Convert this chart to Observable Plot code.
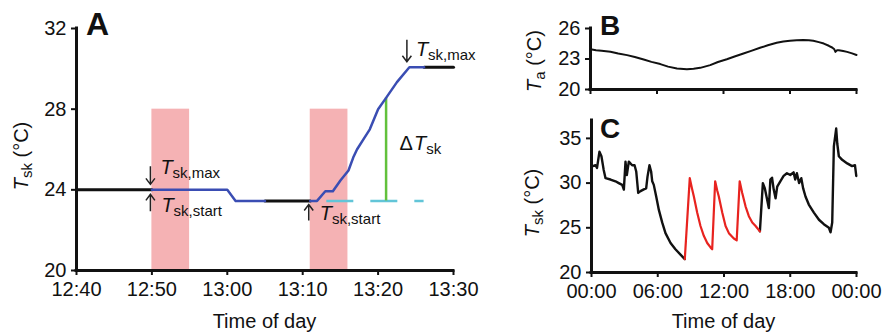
<!DOCTYPE html>
<html>
<head>
<meta charset="utf-8">
<script src="https://cdn.jsdelivr.net/npm/d3@7"></script>
<script src="https://cdn.jsdelivr.net/npm/@observablehq/plot@0.6"></script>
<style>
  html, body { margin: 0; padding: 0; background: #fff; }
  #root { position: relative; width: 884px; height: 333px; overflow: hidden; }
  #root svg { position: absolute; overflow: visible; }
</style>
</head>
<body>
<div id="root"></div>
<script>
const font = '"Liberation Sans", Arial, Helvetica, sans-serif';

// ---------- Panel A data (x = minutes after 12:00) ----------
const aTicks = [40, 50, 60, 70, 80, 90];
const aTickLabels = ["12:40", "12:50", "13:00", "13:10", "13:20", "13:30"];
const aYTicks = [20, 24, 28, 32];
const aBlack1 = [[40, 24], [50, 24]];
const aBlue1 = [[50, 24], [60, 24], [61.1, 23.45], [65, 23.45]];
const aBlack2 = [[65, 23.45], [71, 23.45]];
const aBlue2 = [[71, 23.45], [71.9, 23.45], [73, 23.93], [74, 23.93], [75, 24.46], [76.07, 24.96],
  [76.7, 25.6], [77.2, 26.0], [78.05, 26.5], [78.9, 27.0], [80, 28.0], [81.06, 28.56],
  [82.5, 29.34], [84.15, 30.08], [86.1, 30.08]];
const aBlack3 = [[86.1, 30.08], [90, 30.08]];
const aHeat = [[50, 55], [71, 76]];      // heating pulses (start, end)
const aHeatTop = 28;
const aBaseline = [{x1: 73.2, x2: 86.1, y: 23.45}];   // dashed T_sk,start level
const aDelta = [{x: 81.06, y1: 23.45, y2: 28.56}];    // ΔT_sk

// ---------- Panel B data (x = hour of day) ----------
const dayTicks = [0, 6, 12, 18, 24];
const dayTickLabels = ["00:00", "06:00", "12:00", "18:00", "00:00"];
const bYTicks = [20, 23, 26];
const bTa = [[0, 23.95], [0.5, 23.85], [1, 23.8], [1.8, 23.72], [2.5, 23.55], [3.3, 23.38], [4, 23.2],
  [4.8, 22.95], [5.5, 22.72], [6.3, 22.5], [7, 22.25], [7.8, 22.07], [8.7, 22.0], [9.3, 22.05],
  [9.9, 22.13], [10.8, 22.4], [11.5, 22.7], [12.3, 22.98], [13, 23.25], [13.8, 23.54], [14.5, 23.8],
  [15.3, 24.1], [16, 24.35], [16.8, 24.59], [17.4, 24.72], [18, 24.8], [18.6, 24.85], [19.2, 24.86],
  [19.7, 24.84], [20.1, 24.79], [20.6, 24.66], [21.05, 24.52], [21.5, 24.3], [21.8, 24.13],
  [22.0, 23.95], [22.1, 23.7], [22.25, 23.85], [22.4, 23.87], [22.8, 23.78], [23.15, 23.7],
  [23.6, 23.55], [24, 23.4]];

// ---------- Panel C data (x = hour of day) ----------
const cYTicks = [20, 25, 30, 35];
const cPre = [[0.06, 31.86], [0.36, 32.0], [0.5, 31.7], [0.72, 33.5], [0.9, 33.0], [1.1, 31.5],
  [1.27, 30.55], [1.72, 30.4], [2.17, 30.2], [2.47, 30.0], [2.78, 29.8], [2.93, 29.27], [3.08, 32.4],
  [3.2, 30.9], [3.38, 32.4], [3.68, 32.0], [3.9, 32.0], [4.05, 31.3], [4.23, 28.9], [4.44, 29.1],
  [4.74, 29.3], [4.95, 29.4], [5.07, 30.7], [5.25, 32.0], [5.4, 31.3], [5.5, 30.2], [5.64, 29.8],
  [5.86, 28.5], [6.1, 27.0], [6.4, 25.6], [6.7, 24.4], [7.16, 23.3], [7.6, 22.6], [8.06, 22.0],
  [8.45, 21.5]];
const cHeat = [[8.45, 21.5], [8.9, 30.55], [9.1, 29.4], [9.27, 28.5], [9.57, 26.7], [9.87, 25.2],
  [10.17, 24.1], [10.48, 23.3], [10.78, 22.8], [10.93, 22.6], [11.2, 30.2], [11.38, 29.2],
  [11.53, 28.5], [11.84, 26.7], [12.14, 25.2], [12.44, 24.4], [12.89, 23.8], [13.15, 23.6],
  [13.42, 30.2], [13.65, 28.9], [13.95, 27.4], [14.25, 26.3], [14.56, 25.6], [14.86, 25.2], [15.25, 24.6]];
const cPost = [[15.25, 24.6], [15.52, 30.0], [15.7, 29.4], [15.9, 28.2], [16.06, 27.2], [16.2, 30.4],
  [16.35, 30.6], [16.5, 29.3], [16.67, 28.3], [16.82, 29.6], [17.1, 30.2], [17.4, 30.8], [17.7, 31.1],
  [18.0, 30.9], [18.3, 31.2], [18.45, 30.4], [18.6, 31.1], [18.8, 30.0], [19.0, 30.55], [19.17, 29.4],
  [19.38, 28.5], [19.68, 27.6], [20.14, 26.7], [20.6, 25.9], [21.04, 25.4], [21.5, 25.0], [21.65, 24.5],
  [21.8, 25.6], [21.95, 34.1], [22.16, 36.1], [22.26, 34.4], [22.4, 33.0], [22.7, 32.6], [23.16, 32.2],
  [23.6, 31.9], [23.86, 32.0], [23.98, 30.8]];

const BLACK = "#111";
const BLUE = "#3a4db3";
const PINK = "#f5b2b4";
const GREEN = "#62c13c";
const CYAN = "#62c5d8";
const RED = "#e8231f";

const X = d => d[0], Y = d => d[1];
const intFmt = d => String(d);
const styleBase = {fontFamily: font, fontSize: "20px", color: "#111", background: "transparent", overflow: "visible"};

function addText(svg, x, y, parts, opts = {}) {
  const {size = 20, anchor = "start", rotate = false, weight = null} = opts;
  const t = d3.select(svg).append("text")
    .attr("font-family", font).attr("font-size", size)
    .attr("text-anchor", anchor).attr("fill", "#111");
  if (weight) t.attr("font-weight", weight);
  if (rotate) t.attr("transform", `translate(${x},${y}) rotate(-90)`);
  else t.attr("x", x).attr("y", y);
  let shift = 0;
  for (const p of parts) {
    const s = t.append("tspan").text(p.t);
    if (p.italic) s.attr("font-style", "italic");
    if (p.size) s.attr("font-size", p.size);
    const want = p.sub ? 4 : 0;
    if (want !== shift) { s.attr("dy", want - shift); shift = want; }
    if (p.dx) s.attr("dx", p.dx);
  }
  return t;
}
function arrow(svg, x, y1, y2) {
  const dir = y2 > y1 ? 1 : -1;
  d3.select(svg).append("path")
    .attr("d", `M${x},${y1}L${x},${y2}M${x - 4.5},${y2 - dir * 6}L${x},${y2}L${x + 4.5},${y2 - dir * 6}`)
    .attr("fill", "none").attr("stroke", "#222").attr("stroke-width", 1.5);
}
function place(svg, left, top) {
  svg.style.left = left + "px";
  svg.style.top = top + "px";
  document.getElementById("root").appendChild(svg);
}

// ================= Panel A =================
const A = Plot.plot({
  width: 500, height: 333,
  marginLeft: 76, marginRight: 47, marginTop: 28, marginBottom: 63,
  style: styleBase,
  x: {domain: [40, 90]},
  y: {domain: [20, 32]},
  marks: [
    Plot.rect(aHeat, {x1: d => d[0], x2: d => d[1], y1: 20, y2: aHeatTop, fill: PINK}),
    Plot.axisX({ticks: aTicks, tickFormat: d => aTickLabels[aTicks.indexOf(d)], tickSize: 5, tickPadding: 6, strokeWidth: 2, label: null}),
    Plot.axisY({ticks: aYTicks, tickFormat: intFmt, tickSize: 5, tickPadding: 5, strokeWidth: 2, label: null}),
    Plot.ruleY([20], {x1: 40, x2: 90, stroke: BLACK, strokeWidth: 3, strokeLinecap: "square"}),
    Plot.ruleX([40], {y1: 20, y2: 32, stroke: BLACK, strokeWidth: 3, strokeLinecap: "square"}),
    Plot.ruleY(aBaseline, {x1: "x1", x2: "x2", y: "y", stroke: CYAN, strokeWidth: 2.5, strokeDasharray: "27,17"}),
    Plot.ruleX(aDelta, {x: "x", y1: "y1", y2: "y2", stroke: GREEN, strokeWidth: 2.5}),
    Plot.line(aBlack1, {x: X, y: Y, stroke: BLACK, strokeWidth: 3}),
    Plot.line(aBlack2, {x: X, y: Y, stroke: BLACK, strokeWidth: 3}),
    Plot.line(aBlack3, {x: X, y: Y, stroke: BLACK, strokeWidth: 3}),
    Plot.line(aBlue1, {x: X, y: Y, stroke: BLUE, strokeWidth: 2.5}),
    Plot.line(aBlue2, {x: X, y: Y, stroke: BLUE, strokeWidth: 2.5})
  ]
});
place(A, 0, 0);
{
  const sx = A.scale("x").apply, sy = A.scale("y").apply;
  addText(A, 86, 35, [{t: "A"}], {size: 32, weight: "bold"});
  addText(A, 28, 156, [{t: "T", italic: true}, {t: "sk", size: 15, sub: true}, {t: " (°C)"}], {anchor: "middle", rotate: true});
  addText(A, (sx(40) + sx(90)) / 2, 328, [{t: "Time of day"}], {anchor: "middle"});
  let px = sx(aHeat[0][0]), py = sy(24);
  arrow(A, px - 1, py - 23, py - 5);
  addText(A, px + 9, py - 15, [{t: "T", italic: true}, {t: "sk,max", size: 15, sub: true}]);
  arrow(A, px - 1, py + 22, py + 5);
  addText(A, px + 10, py + 23, [{t: "T", italic: true}, {t: "sk,start", size: 15, sub: true}]);
  px = sx(aHeat[1][0]); py = sy(aBaseline[0].y);
  arrow(A, px - 1, py + 20, py + 4);
  addText(A, px + 10, py + 20, [{t: "T", italic: true}, {t: "sk,start", size: 15, sub: true}]);
  px = sx(84.15); py = sy(30.08);
  arrow(A, px - 2, py - 27, py - 5);
  addText(A, px + 7, py - 11, [{t: "T", italic: true}, {t: "sk,max", size: 15, sub: true}]);
  px = sx(aDelta[0].x); py = sy((aDelta[0].y1 + aDelta[0].y2) / 2);
  addText(A, px + 14, py + 1, [{t: "Δ"}, {t: "T", italic: true, dx: 1}, {t: "sk", size: 15, sub: true}]);
}

// ================= Panel B =================
const B = Plot.plot({
  width: 374, height: 100,
  marginLeft: 80, marginRight: 28, marginTop: 28, marginBottom: 11,
  style: styleBase,
  x: {domain: [0, 24]},
  y: {domain: [20, 26]},
  marks: [
    Plot.axisX({ticks: dayTicks, tickFormat: () => "", tickSize: 5, strokeWidth: 2, label: null}),
    Plot.axisY({ticks: bYTicks, tickFormat: intFmt, tickSize: 5, tickPadding: 5, strokeWidth: 2, label: null}),
    Plot.ruleY([20], {x1: 0, x2: 24, stroke: BLACK, strokeWidth: 3, strokeLinecap: "square"}),
    Plot.ruleX([0], {y1: 20, y2: 26, stroke: BLACK, strokeWidth: 3, strokeLinecap: "square"}),
    Plot.line(bTa, {x: X, y: Y, stroke: BLACK, strokeWidth: 2})
  ]
});
place(B, 510, 0);
addText(B, 90, 35, [{t: "B"}], {size: 28, weight: "bold"});
addText(B, 31, 61, [{t: "T", italic: true}, {t: "a", size: 15, sub: true}, {t: " (°C)"}], {anchor: "middle", rotate: true});

// ================= Panel C =================
const C = Plot.plot({
  width: 374, height: 233,
  marginLeft: 81, marginRight: 28, marginTop: 20, marginBottom: 61,
  style: styleBase,
  x: {domain: [0, 24]},
  y: {domain: [20, 37]},
  marks: [
    Plot.axisX({ticks: dayTicks, tickFormat: d => dayTickLabels[dayTicks.indexOf(d)], tickSize: 5, tickPadding: 6, strokeWidth: 2, label: null}),
    Plot.axisY({ticks: cYTicks, tickFormat: intFmt, tickSize: 5, tickPadding: 5, strokeWidth: 2, label: null}),
    Plot.ruleY([20], {x1: 0, x2: 24, stroke: BLACK, strokeWidth: 3, strokeLinecap: "square"}),
    Plot.ruleX([0], {y1: 20, y2: 37, stroke: BLACK, strokeWidth: 3, strokeLinecap: "square"}),
    Plot.line(cPre, {x: X, y: Y, stroke: BLACK, strokeWidth: 2.4}),
    Plot.line(cPost, {x: X, y: Y, stroke: BLACK, strokeWidth: 2.4}),
    Plot.line(cHeat, {x: X, y: Y, stroke: RED, strokeWidth: 2.2})
  ]
});
place(C, 510, 100);
{
  const sx = C.scale("x").apply;
  addText(C, 90, 38, [{t: "C"}], {size: 28, weight: "bold"});
  addText(C, 29, 103, [{t: "T", italic: true}, {t: "sk", size: 15, sub: true}, {t: " (°C)"}], {anchor: "middle", rotate: true});
  addText(C, (sx(0) + sx(24)) / 2, 228, [{t: "Time of day"}], {anchor: "middle"});
}
</script>
</body>
</html>
